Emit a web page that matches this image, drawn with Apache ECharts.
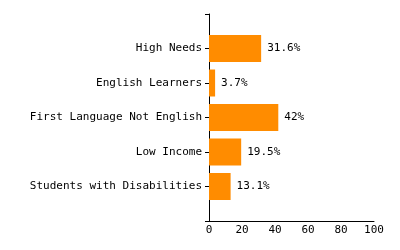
<!DOCTYPE html>
<html><head><meta charset="utf-8">
<script src="https://cdn.jsdelivr.net/npm/echarts@6/dist/echarts.min.js"></script>
<style>html,body{margin:0;padding:0;background:#fff}#c{width:400px;height:250px}</style>
</head><body><div id="c"></div>
<script>
const categories = ['Students with Disabilities', 'Low Income', 'First Language Not English', 'English Learners', 'High Needs'];
const values = [13.1, 19.5, 42, 3.7, 31.6];
const xTicks = [0, 20, 40, 60, 80, 100];

const cats = [''].concat(categories, ['']);
const vals = ['-'].concat(values, ['-']);
const font = 'DejaVu Sans Mono';
const chart = echarts.init(document.getElementById('c'));
chart.setOption({
  animation: false,
  grid: {left: 209, right: 26, top: 14, bottom: 29, containLabel: false},
  xAxis: {
    type: 'value', min: xTicks[0], max: xTicks[xTicks.length - 1], interval: 20,
    axisLine: {show: true, lineStyle: {color: '#000', width: 1}},
    axisTick: {show: false},
    splitLine: {show: false},
    axisLabel: {color: '#000', fontFamily: font, fontSize: 11, margin: 4}
  },
  yAxis: {
    type: 'category', data: cats, boundaryGap: false,
    axisLine: {show: true, lineStyle: {color: '#000', width: 1}},
    axisTick: {show: true, length: 4, lineStyle: {color: '#000'}},
    axisLabel: {color: '#000', fontFamily: font, fontSize: 11, margin: 7, interval: 0}
  },
  series: [{
    type: 'bar', data: vals, barWidth: 27,
    itemStyle: {color: '#FF8C00'},
    label: {show: true, position: 'right', distance: 6, formatter: '{c}%', color: '#000', fontFamily: font, fontSize: 11}
  }]
});
</script></body></html>
